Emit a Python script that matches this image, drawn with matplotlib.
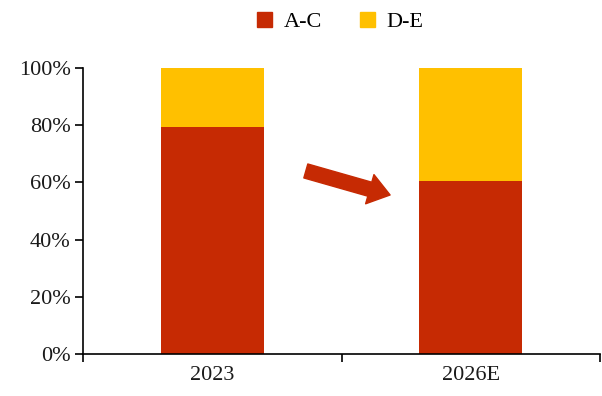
import numpy as np
import matplotlib
matplotlib.use('Agg')
import matplotlib.pyplot as plt
from matplotlib.patches import Patch

categories = ['2023', '2026E']
share_ac = [79.4, 60.5]
share_de = [20.6, 39.5]
y_ticks = [0, 20, 40, 60, 80, 100]

red = '#C62A03'
yellow = '#FFC000'

plt.rcParams['font.family'] = ['Liberation Serif', 'DejaVu Serif']

fig = plt.figure(figsize=(6.02, 3.96), dpi=100)
ax = fig.add_axes([83 / 602, 1 - 354 / 396, 517 / 602, 286 / 396])

x = np.arange(len(categories)) + 0.5
ax.bar(x, share_ac, width=0.4, color=red, label='A-C')
ax.bar(x, share_de, width=0.4, bottom=share_ac, color=yellow, label='D-E')

ax.set_xlim(0, len(categories))
ax.set_ylim(0, 100)
ax.set_yticks(y_ticks)
ax.set_yticklabels([f'{v}%' for v in y_ticks], fontsize=16, color='#1a1a1a')
ax.set_xticks(np.arange(len(categories) + 1))
ax.set_xticklabels([])
ax.set_xticks(x, minor=True)
ax.set_xticklabels(categories, minor=True, fontsize=16, color='#1a1a1a')
ax.tick_params(axis='x', which='minor', length=0, pad=9)
ax.tick_params(axis='x', which='major', length=6, width=1.2)
ax.tick_params(axis='y', length=6, width=1.2, pad=3)
for side in ['top', 'right']:
    ax.spines[side].set_visible(False)
for side in ['left', 'bottom']:
    ax.spines[side].set_linewidth(1.2)

# trend arrow
ax.annotate('', xy=(0.594, 0.556), xytext=(0.431, 0.640),
            xycoords='axes fraction', textcoords='axes fraction',
            arrowprops=dict(arrowstyle='simple,head_length=0.8,head_width=1.15,tail_width=0.55',
                            color=red, mutation_scale=19, shrinkA=0, shrinkB=0))

handles = [Patch(color=red, label='A-C'), Patch(color=yellow, label='D-E')]
fig.legend(handles=handles, loc='center', bbox_to_anchor=(340 / 602, 1 - 22 / 396),
           ncol=2, frameon=False, fontsize=16, handlelength=0.7, handleheight=0.7,
           handletextpad=0.5, columnspacing=1.7)

fig.savefig('out.png', dpi=100, facecolor='white')
